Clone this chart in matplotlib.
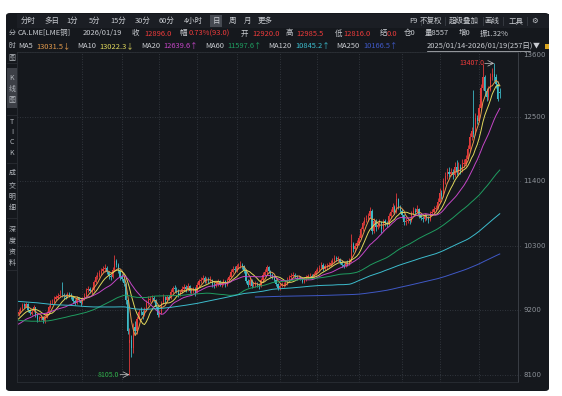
import numpy as np
import pandas as pd
import matplotlib
matplotlib.use('Agg')
import matplotlib.pyplot as plt
import matplotlib.transforms as mtransforms
from matplotlib.patches import FancyBboxPatch, Rectangle

plt.rcParams['font.family'] = ['Noto Sans CJK SC', 'DejaVu Sans']

# ---------------- data (LME copper, daily) ----------------
start_date = '2025-01-14'
end_date = '2026-01-19'
holidays = ['2025-04-18', '2025-04-21', '2025-05-05', '2025-05-26',
            '2025-08-25', '2025-12-25', '2025-12-26', '2026-01-01']

opens = [
    9140, 9165, 9225, 9300, 9265, 9310, 9205, 9145, 9185, 9250, 9115, 9055, 9075, 9090,
    9020, 9095, 9150, 9255, 9335, 9345, 9400, 9415, 9440, 9470, 9455, 9445, 9425, 9485, 9465, 9430, 9360, 9325, 9415, 9365,
    9325, 9395, 9445, 9545, 9565, 9525, 9550, 9690, 9765, 9790, 9830, 9875, 9900, 9925, 9845, 9780, 9765, 9890, 10040, 9975, 9865,
    9765, 9740, 9650, 9370, 8650, 8690, 8560, 8910, 8850, 9060, 9180, 9165, 9125, 9210, 9320, 9385, 9390, 9405, 9375, 9255,
    9115, 9155, 9335, 9425, 9380, 9425, 9405, 9510, 9580, 9555, 9540, 9470, 9515, 9570, 9600, 9560, 9615, 9530, 9535, 9560,
    9505, 9630, 9700, 9715, 9750, 9700, 9730, 9715, 9720, 9640, 9630, 9650, 9700, 9640, 9655, 9700, 9640, 9710, 9770, 9860, 9910,
    9880, 9950, 9960, 9980, 9950, 9880, 9700, 9640, 9720, 9620, 9640, 9650, 9630, 9620, 9710, 9810, 9850, 9930, 9870, 9800, 9780, 9720, 9650,
    9580, 9620, 9630, 9640, 9660, 9720, 9770, 9790, 9810, 9790, 9760, 9770, 9750, 9690, 9720, 9760, 9780, 9790, 9770, 9820,
    9870, 9900, 9920, 9980, 9900, 9950, 9960, 9980, 10000, 10040, 10090, 10080, 10080, 10030, 9980, 9960, 10000, 9990, 10050, 10330, 10250, 10300,
    10350, 10430, 10580, 10680, 10740, 10760, 10800, 10900, 10560, 10720, 10620, 10650, 10700, 10580, 10720, 10680, 10670, 10800, 10880, 10960, 10880, 11100, 10960,
    10900, 10820, 10700, 10720, 10740, 10720, 10860, 10900, 10870, 10930, 10820, 10780, 10750, 10800, 10790, 10740, 10850, 10880, 10930, 10950,
    11050, 11200, 11150, 11400, 11480, 11560, 11520, 11560, 11500, 11650, 11550, 11650, 11580, 11700, 11700, 11780, 11950, 12150, 12250, 12200, 12480,
    12430, 12650, 12980, 13170, 12930, 12830, 12960, 13176, 13230, 13170, 13058, 12920,
]
highs = [
    9215, 9260, 9330, 9320, 9345, 9325, 9230, 9215, 9290, 9265, 9140, 9105, 9120, 9110,
    9130, 9190, 9290, 9370, 9400, 9440, 9470, 9500, 9540, 9680, 9490, 9480, 9520, 9510, 9490, 9450, 9390, 9440, 9430, 9390,
    9430, 9500, 9580, 9620, 9600, 9590, 9720, 9800, 9850, 9880, 9920, 9960, 9990, 9950, 9870, 9820, 9930, 10140, 10080, 10000, 9890,
    9820, 9780, 9680, 9400, 8900, 8780, 8980, 9020, 9100, 9230, 9250, 9200, 9250, 9380, 9450, 9440, 9460, 9450, 9400, 9280,
    9200, 9360, 9480, 9450, 9460, 9470, 9560, 9620, 9640, 9590, 9560, 9550, 9610, 9650, 9630, 9660, 9640, 9580, 9600, 9590,
    9680, 9740, 9770, 9800, 9780, 9770, 9760, 9780, 9740, 9680, 9700, 9740, 9720, 9690, 9740, 9720, 9750, 9810, 9900, 9960, 9950,
    9990, 10010, 10040, 10000, 9970, 9900, 9730, 9760, 9740, 9690, 9700, 9690, 9660, 9750, 9850, 9900, 9980, 9950, 9890, 9830, 9800, 9740, 9670,
    9660, 9680, 9690, 9710, 9760, 9810, 9830, 9860, 9840, 9810, 9800, 9790, 9770, 9760, 9800, 9820, 9830, 9820, 9860, 9910,
    9940, 9970, 10020, 10000, 9990, 10000, 10030, 10050, 10090, 10140, 10130, 10130, 10100, 10050, 10010, 10040, 10050, 10100, 10500, 10370, 10350, 10400,
    10480, 10620, 10720, 10790, 10820, 10860, 10960, 10920, 10770, 10750, 10700, 10760, 10720, 10760, 10750, 10720, 10850, 10930, 11020, 10990, 11200, 11120, 10990,
    10930, 10840, 10770, 10790, 10780, 10900, 10960, 10940, 10990, 10950, 10850, 10810, 10850, 10840, 10810, 10890, 10930, 10980, 11000, 11110,
    11280, 11250, 11460, 11550, 11620, 11640, 11620, 11600, 11720, 11760, 11720, 11700, 11770, 11780, 11850, 12020, 12220, 12330, 12950, 12560, 12530,
    12720, 13050, 13390, 13200, 12990, 13020, 13250, 13320, 13407, 13220, 13100, 12985.5,
]
lows = [
    9110, 9150, 9210, 9235, 9250, 9180, 9120, 9120, 9170, 9090, 9010, 9020, 9040, 8990,
    8980, 9070, 9130, 9240, 9300, 9320, 9370, 9390, 9420, 9430, 9400, 9390, 9410, 9420, 9400, 9330, 9290, 9300, 9340, 9280,
    9300, 9370, 9430, 9510, 9490, 9480, 9530, 9660, 9740, 9760, 9800, 9850, 9860, 9820, 9740, 9720, 9750, 9870, 9930, 9840, 9720,
    9700, 9620, 9300, 8800, 8105, 8400, 8480, 8780, 8800, 9030, 9120, 9060, 9100, 9190, 9290, 9340, 9350, 9340, 9220, 9080,
    9090, 9140, 9310, 9330, 9340, 9370, 9390, 9490, 9520, 9490, 9430, 9440, 9490, 9540, 9520, 9530, 9490, 9480, 9500, 9440,
    9490, 9600, 9670, 9680, 9660, 9670, 9660, 9680, 9600, 9580, 9600, 9620, 9610, 9600, 9630, 9600, 9620, 9690, 9750, 9830, 9850,
    9860, 9900, 9920, 9900, 9840, 9660, 9600, 9620, 9580, 9590, 9600, 9590, 9570, 9600, 9690, 9780, 9820, 9840, 9760, 9740, 9690, 9610, 9540,
    9550, 9590, 9600, 9610, 9640, 9700, 9740, 9760, 9750, 9720, 9730, 9710, 9660, 9670, 9700, 9740, 9750, 9740, 9750, 9800,
    9850, 9870, 9900, 9870, 9880, 9910, 9930, 9950, 9970, 10010, 10040, 10030, 9990, 9940, 9920, 9930, 9950, 9970, 10030, 10200, 10210, 10260,
    10320, 10410, 10550, 10650, 10700, 10720, 10770, 10500, 10520, 10560, 10580, 10620, 10520, 10560, 10640, 10620, 10650, 10770, 10850, 10840, 10860, 10920, 10850,
    10780, 10650, 10660, 10690, 10670, 10700, 10830, 10820, 10850, 10780, 10740, 10700, 10720, 10740, 10690, 10720, 10820, 10850, 10900, 10920,
    11020, 11100, 11130, 11360, 11440, 11470, 11480, 11440, 11470, 11500, 11520, 11530, 11560, 11640, 11660, 11760, 11920, 12100, 12150, 12180, 12380,
    12400, 12620, 12950, 12850, 12760, 12790, 12930, 13120, 13100, 12980, 12760, 12816,
]
closes = [
    9170, 9230, 9290, 9270, 9300, 9200, 9150, 9180, 9260, 9120, 9060, 9070, 9080, 9030,
    9100, 9150, 9260, 9330, 9350, 9400, 9420, 9440, 9470, 9460, 9440, 9430, 9480, 9460, 9440, 9360, 9330, 9410, 9370, 9320,
    9400, 9450, 9540, 9560, 9530, 9550, 9690, 9760, 9790, 9830, 9870, 9900, 9920, 9850, 9780, 9760, 9890, 10040, 9980, 9870, 9760,
    9740, 9660, 9380, 8850, 8700, 8560, 8900, 8850, 9050, 9180, 9170, 9120, 9200, 9320, 9380, 9390, 9400, 9380, 9260, 9120,
    9150, 9330, 9430, 9380, 9420, 9400, 9510, 9580, 9560, 9540, 9470, 9510, 9570, 9600, 9560, 9620, 9530, 9530, 9560, 9500,
    9630, 9700, 9710, 9750, 9700, 9730, 9710, 9720, 9640, 9630, 9650, 9700, 9640, 9650, 9700, 9640, 9710, 9770, 9860, 9910, 9880,
    9950, 9960, 9980, 9950, 9880, 9700, 9640, 9720, 9620, 9640, 9650, 9630, 9620, 9710, 9810, 9850, 9930, 9870, 9800, 9780, 9720, 9650, 9580,
    9620, 9630, 9640, 9660, 9720, 9770, 9790, 9810, 9790, 9760, 9770, 9750, 9690, 9720, 9760, 9780, 9790, 9770, 9820, 9870,
    9900, 9920, 9980, 9900, 9950, 9960, 9980, 10000, 10040, 10090, 10080, 10080, 10030, 9980, 9960, 10000, 9990, 10050, 10330, 10250, 10300, 10350,
    10430, 10580, 10680, 10740, 10760, 10800, 10900, 10560, 10720, 10620, 10650, 10700, 10580, 10720, 10680, 10670, 10800, 10880, 10960, 10880, 11100, 10960, 10900,
    10820, 10700, 10720, 10740, 10720, 10860, 10900, 10870, 10930, 10820, 10780, 10750, 10800, 10790, 10740, 10850, 10880, 10930, 10950, 11050,
    11200, 11150, 11400, 11480, 11560, 11520, 11560, 11500, 11650, 11550, 11650, 11580, 11700, 11700, 11780, 11950, 12150, 12250, 12200, 12480, 12430,
    12650, 12980, 13170, 12930, 12830, 12960, 13176, 13230, 13170, 13058, 12803, 12896,
]

# closes before the visible window (only feed the moving averages)
prior_closes = [
    9550, 9500, 9480, 9520, 9560, 9600, 9580, 9540, 9500, 9460,
    9420, 9400, 9450, 9480, 9520, 9560, 9600, 9620, 9580, 9600,
    9640, 9680, 9700, 9660, 9620, 9600, 9580, 9560, 9600, 9640,
    9680, 9700, 9720, 9680, 9650, 9620, 9660, 9700, 9740, 9760,
    9780, 9800, 9760, 9740, 9780, 9820, 9860, 9880, 9900, 9850,
    9820, 9860, 9900, 9920, 9880, 9840, 9780, 9750, 9720, 9700,
    9660, 9620, 9600, 9560,
    9500, 9450, 9400, 9380, 9350, 9300, 9250, 9200,
    9150, 9100, 9120, 9050, 9000, 8980, 9020, 9060, 9040, 9000, 8960,
    8980, 9020, 9060, 9080, 9040, 9000, 8960, 8940, 8980, 9000,
    8960, 8940, 8900, 8920, 8960, 8980, 8940, 8900, 8880, 8900,
    8920, 8880, 8860, 8840, 8880, 8900, 8920, 8900, 8880, 8860,
    8880, 8920, 8960, 9000, 9040, 9020, 9060, 9100, 9120, 9140,
]

ma_periods = [5, 10, 20, 60, 120, 250]
ma_colors = ['#e39a4c', '#e0d85c', '#c446c6', '#1f9c60', '#3cbccd', '#3f58c6']
ma_text = ['13031.5↓', '13022.3↓', '12639.6↑', '11597.6↑', '10845.2↑', '10166.5↑']
y_ticks = [13600, 12500, 11400, 10300, 9200, 8100]

tabs = ['分时', '多日', '1分', '5分', '15分', '30分', '60分', '4小时', '日', '周', '月', '更多']
tab_x = [28, 52, 72, 95, 118, 143, 167, 193, 216, 232, 248, 265]
tools = ['F9', '不复权', '超级叠加', '画线', '工具', '⚙']
tool_x = [413, 431, 464, 492, 516, 535]

assert len(opens) == len(highs) == len(lows) == len(closes) == 257

dates = pd.bdate_range(start_date, end_date, freq='C', holidays=holidays)
n = len(closes)
idx = np.arange(n)

full = pd.Series(prior_closes + closes, dtype=float)
mas = {p: full.rolling(p).mean().values[len(prior_closes):] for p in ma_periods}

# ---------------- figure ----------------
W, H = 562, 396
BG = '#15181d'
TXT = '#c9ccd1'
RED = '#ee3b3b'
fig = plt.figure(figsize=(W / 100, H / 100), dpi=100)
fig.patch.set_facecolor('white')


def fx(x):
    return x / W


def fy(y):
    return 1 - y / H


def rect(x0, y0, x1, y1, color):
    fig.patches.append(Rectangle((fx(x0), fy(y1)), fx(x1) - fx(x0), fy(y0) - fy(y1),
                                 transform=fig.transFigure, facecolor=color,
                                 edgecolor='none', zorder=0.5))


def hline(x0, x1, y, color, lw=0.6):
    fig.add_artist(plt.Line2D([fx(x0), fx(x1)], [fy(y), fy(y)], color=color, lw=lw,
                              transform=fig.transFigure, zorder=0.6))


def vline(x, y0, y1, color, lw=0.6):
    fig.add_artist(plt.Line2D([fx(x), fx(x)], [fy(y0), fy(y1)], color=color, lw=lw,
                              transform=fig.transFigure, zorder=0.6))


fig.patches.append(FancyBboxPatch((fx(6), fy(391)), fx(549) - fx(6), fy(13) - fy(391),
                                  boxstyle='round,pad=0,rounding_size=0.007', zorder=0.4,
                                  transform=fig.transFigure, facecolor=BG, edgecolor='none'))
# tab bar
rect(17, 14, 549, 28, '#1b1e24')
rect(210, 15, 222, 27, '#464a52')
for t, x in zip(tabs, tab_x):
    fig.text(fx(x), fy(21), t, fontsize=5.4, color=TXT, ha='center', va='center')
for t, x in zip(tools, tool_x):
    fig.text(fx(x), fy(21), t, fontsize=5.4, color=TXT, ha='center', va='center')
for x in [421, 445, 483, 503, 527]:
    vline(x, 17, 25, '#3a3e45')

# left vertical tabs
rect(7, 68, 17, 108, '#3d4047')
side = [('分', 33), ('时', 46), ('图', 58), ('K', 78), ('线', 89), ('图', 100),
        ('T', 122), ('I', 132), ('C', 142), ('K', 153),
        ('成', 173), ('交', 185), ('明', 197), ('细', 208),
        ('深', 230), ('度', 241), ('资', 252), ('料', 263)]
for ch, y in side:
    fig.text(fx(12), fy(y), ch, fontsize=5, color='#b4b8be', ha='center', va='center')
for y in [63, 115, 163, 218, 270]:
    hline(7, 17, y, '#2a2d33')

# header row 1
row1 = [(18, 'CA.LME[LME铜]', TXT), (83, '2026/01/19', TXT),
        (132, '收', TXT), (144, '12896.0', RED), (180, '幅', TXT), (189, '0.73%(93.0)', RED),
        (241, '开', TXT), (252, '12920.0', RED), (286, '高', TXT), (296, '12985.5', RED),
        (335, '低', TXT), (343, '12816.0', RED), (380, '结', TXT), (387, '0.0', RED),
        (404, '仓0', TXT), (425, '量8557', TXT), (459, '增0', TXT), (480, '振1.32%', TXT)]
for x, t, c in row1:
    fig.text(fx(x), fy(33.5), t, fontsize=5.4, color=c, ha='left', va='center')

# header row 2: moving-average legend, laid out one after the other
fig.canvas.draw()
renderer = fig.canvas.get_renderer()
cursor = 18
for p, t, col in zip(ma_periods, ma_text, ma_colors):
    for s, c, gap in [('MA%d' % p, TXT, 3.5), (t, col, 6.5)]:
        tx = fig.text(fx(cursor), fy(46), s, fontsize=5.4, color=c, ha='left', va='center')
        cursor += tx.get_window_extent(renderer).width + gap
fig.text(fx(427), fy(46), '2025/01/14-2026/01/19(257日)', fontsize=5.4, color=TXT,
         ha='left', va='center')
hline(427, 530, 50.5, TXT, 0.5)
fig.text(fx(536), fy(46), '▼', fontsize=5, color=TXT, ha='center', va='center')
rect(545, 44, 549, 49, '#d9a520')

# ---------------- chart ----------------
ax = fig.add_axes([fx(17), fy(382), fx(518) - fx(17), fy(52) - fy(382)])
ax.set_zorder(2)
ax.set_facecolor(BG)
ax.set_xlim(-0.8, 265.7)
ax.set_ylim(7980, 13600)
ax.set_xticks([])
ax.set_yticks([])
for s in ['left', 'top', 'bottom']:
    ax.spines[s].set_color('#2a2e34')
    ax.spines[s].set_linewidth(0.6)
ax.spines['right'].set_color('#3a3e45')
ax.spines['right'].set_linewidth(0.7)

grid_kw = dict(color='#3a3f47', lw=0.6, linestyle=(0, (1, 2)), zorder=0)
blend = mtransforms.blended_transform_factory(ax.transAxes, ax.transData)
for v in y_ticks:
    ax.plot([0, 1.008], [v, v], transform=blend, clip_on=False, **grid_kw)
    ax.text(1.01, v, str(v), transform=blend, fontsize=5, color='#8d9299', ha='left',
            family='DejaVu Sans', va='top' if v == y_ticks[0] else 'center')
month_starts = [i for i in range(1, n) if dates[i].month != dates[i - 1].month][1:]
for i in month_starts:
    ax.axvline(i, **grid_kw)

o = np.array(opens, dtype=float)
h = np.array(highs, dtype=float)
l = np.array(lows, dtype=float)
c = np.array(closes, dtype=float)
up = c >= o
cols = np.where(up, '#e03a3a', '#3db8c5')
ax.vlines(idx, l, h, colors=cols, lw=0.6, zorder=2)
body = np.maximum(np.abs(c - o), 10)
ax.bar(idx, body, bottom=np.minimum(o, c), width=0.65, color=cols, lw=0, zorder=2)

for p, col in zip(ma_periods, ma_colors):
    ax.plot(idx, mas[p], color=col, lw=0.7, zorder=3)

# extreme markers
i_hi = int(np.argmax(h))
i_lo = int(np.argmin(l))
ax.annotate('', xy=(i_hi, h[i_hi]), xytext=(i_hi - 5, h[i_hi]),
            arrowprops=dict(arrowstyle='->', color='#c8c8c8', lw=0.5, shrinkA=0, shrinkB=0))
ax.text(i_hi - 5.3, h[i_hi], '%.1f' % h[i_hi], fontsize=5, color=RED, ha='right', va='center')
ax.annotate('', xy=(i_lo, l[i_lo]), xytext=(i_lo - 5, l[i_lo]),
            arrowprops=dict(arrowstyle='->', color='#c8c8c8', lw=0.5, shrinkA=0, shrinkB=0))
ax.text(i_lo - 5.3, l[i_lo], '%.1f' % l[i_lo], fontsize=5, color='#2fb04a', ha='right', va='center')

fig.savefig('out.png', dpi=100, facecolor='white')
